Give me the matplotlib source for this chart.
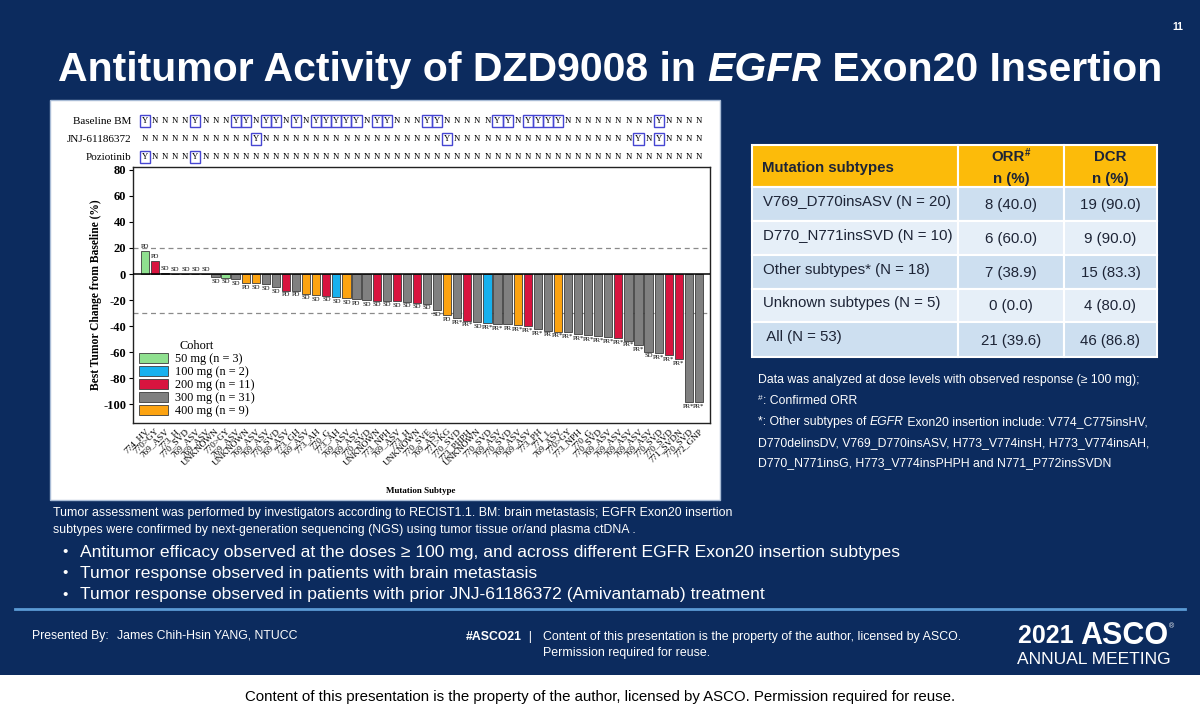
import matplotlib
matplotlib.use("Agg")
import matplotlib.pyplot as plt
from matplotlib.patches import Rectangle, Patch
from matplotlib.lines import Line2D
from matplotlib.transforms import blended_transform_factory

plt.rcParams["axes.unicode_minus"] = False

W, H = 1200, 720
NAVY = "#0c2b5e"
SANS = "Liberation Sans"
SERIF = "Liberation Serif"

# ---- waterfall data (one entry per patient, left to right) ----
subtypes = ["774_HV", "770>GY", "769_ASV", "773_H", "770_SVD", "769_ASV", "769_ASV", "UNKNOWN",
            "770>GY", "769_ASV", "UNKNOWN", "769_ASV", "769_ASV", "770_SVD", "769_ASV", "773_GH",
            "769_ASV", "773_AH", "770_G", "773_AH", "769_ASV", "769_ASV", "770_SVD", "UNKNOWN",
            "773_NPH", "769_ASV", "773_H", "UNKNOWN", "770_SVE", "769_ASV", "771>KG", "770_SVD",
            "773_PHPH", "UNKNOWN", "770_SVD", "769_ASV", "770_SVD", "769_ASV", "769_ASV", "773_PH",
            "771_L", "769_ASV", "770>GY", "773_NPH", "770_G", "770_SVD", "769_ASV", "769_ASV",
            "769_ASV", "769_ASV", "769_ASV", "770_SVD", "770_SVD", "771_SVDN", "770_SVD", "772_GNP"]
change = [18, 10, 1, 0, 0, 0, 0, -2.6, -3, -4, -7, -7, -7.7, -10, -12.8, -13,
          -15, -16.5, -16.8, -18, -18.7, -19.5, -20, -20.5, -20.5, -20.8, -21.3, -22, -23, -27.7,
          -31.5, -34, -36, -36.9, -37.9, -38.5, -38.7, -39.2, -40, -42.6, -43.6, -44.4, -44.9,
          -46.2, -47, -47.7, -48.7, -49.5, -51.3, -54.6, -59.7, -61, -62.3, -65.6, -98.7, -98.7]
dose = [50, 200, 300, 300, 400, 50, 300, 300, 50, 300, 400, 400, 300, 300, 200, 300,
        400, 400, 200, 100, 400, 300, 300, 200, 300, 200, 300, 200, 300, 300, 400, 300,
        200, 300, 100, 300, 300, 400, 200, 300, 300, 400, 300, 300, 300, 300, 300, 200,
        300, 300, 300, 300, 200, 200, 300, 300]
response = ["PD", "PD"] + ["SD"] * 8 + ["PD", "SD", "SD", "SD", "PD", "PD"] + ["SD"] * 5 + ["PD"] + \
           ["SD"] * 8 + ["PD", "PR*", "PR*", "SD", "PR*", "PR*", "PR", "PR*", "PR*", "PR*", "PR"] + \
           ["PR*"] * 9 + ["SD", "PR*", "PR*", "PR*", "PR*", "PR*"]
baseline_bm = list("YNNNNYNNNYYNYYNYNYYYYYNYYNNNYYNNNNNYYNYYYYNNNNNNNNNYNNNN")
jnj_yes = [12, 31, 50, 52]
pozio_yes = [1, 6]

cohort_labels = ["50 mg (n = 3)", "100 mg (n = 2)", "200 mg (n = 11)", "300 mg (n = 31)", "400 mg (n = 9)"]
cohort_doses = [50, 100, 200, 300, 400]
cohort_colors = {50: "#8fe08f", 100: "#17b1ee", 200: "#d8143f", 300: "#808080", 400: "#fca311"}

# ---- table data ----
tbl_rows = ["V769_D770insASV (N = 20)", "D770_N771insSVD (N = 10)", "Other subtypes* (N = 18)",
            "Unknown subtypes (N = 5)", " All (N = 53)"]
tbl_orr = ["8 (40.0)", "6 (60.0)", "7 (38.9)", "0 (0.0)", "21 (39.6)"]
tbl_dcr = ["19 (90.0)", "9 (90.0)", "15 (83.3)", "4 (80.0)", "46 (86.8)"]

bullets = ["Antitumor efficacy observed at the doses \u2265 100 mg, and across different EGFR Exon20 insertion subtypes",
           "Tumor response observed in patients with brain metastasis",
           "Tumor response observed in patients with prior JNJ-61186372 (Amivantamab) treatment"]

fig = plt.figure(figsize=(12, 7.2), dpi=100)
fig.patch.set_facecolor("white")
renderer = fig.canvas.get_renderer()


def fx(px):
    return px / W


def fy(py):
    return 1 - py / H


def rich(x, y, parts, ha="left", size=10, color="white", va="center"):
    """draw text runs with different styles one after another (pixel coords)"""
    cur = fx(x)
    arts = []
    for p in parts:
        if isinstance(p, str):
            p = (p, {})
        s, kw = p
        opts = dict(color=color, fontsize=size, family=SANS, va=va)
        opts.update(kw)
        dy = opts.pop("dy", 0)
        t = fig.text(cur, fy(y - dy), s, **opts)
        cur += t.get_window_extent(renderer).width / W
        arts.append(t)
    if ha == "center":
        shift = (cur - fx(x)) / 2
        for t in arts:
            t.set_x(t.get_position()[0] - shift)
    return arts


# slide background and chart panel
fig.add_artist(Rectangle((0, fy(675)), 1, 675 / H, transform=fig.transFigure,
                         facecolor=NAVY, edgecolor="none", zorder=-3))
fig.add_artist(Rectangle((fx(50), fy(500)), 670 / W, 400 / H, transform=fig.transFigure,
                         facecolor="white", edgecolor="#a9bcd6", lw=1, zorder=-2))

# ---- waterfall ----
ax = fig.add_axes([fx(133), fy(423), (710 - 133) / W, (423 - 167) / H])
x = list(range(len(change)))
ax.bar(x, change, width=0.82, color=[cohort_colors[d] for d in dose],
       edgecolor="#3c3c3c", linewidth=0.6, zorder=3)
ax.axhline(0, color="black", lw=1.1, zorder=4)
ax.axhline(20, color="#8a8a8a", lw=0.9, ls=(0, (4, 3)), zorder=1)
ax.axhline(-30, color="#8a8a8a", lw=0.9, ls=(0, (4, 3)), zorder=1)
ax.set_xlim(-1.19, 56.1)
ax.set_ylim(-114.6, 82.3)
ax.set_yticks(range(-100, 81, 20))
for lab in ax.get_yticklabels():
    lab.set_fontfamily(SERIF)
    lab.set_fontweight("bold")
    lab.set_fontsize(9)
ax.tick_params(axis="y", length=3, width=0.8, pad=2)
ax.set_xticks(x)
ax.set_xticklabels(subtypes, rotation=45, ha="right", rotation_mode="anchor",
                   fontsize=6.7, family=SERIF)
ax.tick_params(axis="x", length=0, pad=3)
for s in ax.spines.values():
    s.set_linewidth(1.0)
    s.set_color("#222222")
ax.set_ylabel("Best Tumor Change from Baseline (%)", family=SERIF, fontweight="bold",
              fontsize=8.3, labelpad=1)

for i, (v, r) in enumerate(zip(change, response)):
    if v >= 0:
        ax.text(i, v + 1.2, r, ha="center", va="bottom", fontsize=4.8, family=SERIF, zorder=5)
    else:
        ax.text(i, v - 1.2, r, ha="center", va="top", fontsize=4.8, family=SERIF, zorder=5)

handles = [Patch(facecolor=cohort_colors[d], edgecolor="#3c3c3c", lw=0.6) for d in cohort_doses]
leg = ax.legend(handles, cohort_labels, title="Cohort", loc="lower left", frameon=False,
                prop={"family": SERIF, "size": 8.8}, title_fontproperties={"family": SERIF, "size": 8.8},
                handlelength=2.4, handleheight=0.9, handletextpad=0.5, labelspacing=0.05,
                borderaxespad=0.3, borderpad=0.2)

fig.text(fx(421), fy(491), "Mutation Subtype", family=SERIF, fontweight="bold", fontsize=6.5,
         ha="center", va="center")

# Y/N annotation rows above the bars
tr = blended_transform_factory(ax.transData, fig.transFigure)
rows = [("Baseline BM", 121, baseline_bm),
        ("JNJ-61186372", 139, ["Y" if i + 1 in jnj_yes else "N" for i in x]),
        ("Poziotinib", 157, ["Y" if i + 1 in pozio_yes else "N" for i in x])]
for name, py, flags in rows:
    fig.text(fx(131), fy(py), name, family=SERIF, fontsize=8, ha="right", va="center")
    for i, f in enumerate(flags):
        box = dict(boxstyle="square,pad=0.22", fc="none", ec="#4646d2", lw=1.0) if f == "Y" else None
        ax.text(i, fy(py), f, transform=tr, family=SERIF, fontsize=6.3, ha="center", va="center",
                bbox=box, clip_on=False)

# ---- title ----
rich(610, 70, [("Antitumor Activity of DZD9008 in ", {"fontweight": "bold"}),
               ("EGFR", {"fontweight": "bold", "style": "italic"}),
               (" Exon20 Insertion", {"fontweight": "bold"})], ha="center", size=29.5)
fig.text(fx(1178), fy(27), "11", color="white", fontsize=7.5, fontweight="bold", family=SANS,
         ha="center", va="center")

# ---- table ----
col_edges = [752, 958, 1064, 1157]
row_edges = [145, 187, 221, 255, 289, 322, 357]
fills = ["#fcbb0a", "#cddff0", "#e6eff8", "#cddff0", "#e6eff8", "#cddff0"]
for r in range(6):
    for c in range(3):
        x0, x1 = col_edges[c], col_edges[c + 1]
        y0, y1 = row_edges[r], row_edges[r + 1]
        fig.add_artist(Rectangle((fx(x0), fy(y1)), (x1 - x0) / W, (y1 - y0) / H,
                                 transform=fig.transFigure, facecolor=fills[r],
                                 edgecolor="white", lw=1.5, zorder=1))
TXT = "#1d2436"
fig.text(fx(762), fy(168), "Mutation subtypes", color=TXT, fontsize=10.8, fontweight="bold",
         family=SANS, va="center")
ccx = [(col_edges[1] + col_edges[2]) / 2, (col_edges[2] + col_edges[3]) / 2]
rich(ccx[0], 157, [("ORR", {"fontweight": "bold"}),
                   ("#", {"fontweight": "bold", "fontsize": 7, "dy": 4})], ha="center", size=10.8, color=TXT)
rich(ccx[1], 157, [("DCR", {"fontweight": "bold"})], ha="center", size=10.8, color=TXT)
for cx in ccx:
    fig.text(fx(cx), fy(179), "n (%)", color=TXT, fontsize=10.8, fontweight="bold", family=SANS,
             ha="center", va="center")
for r, (lab, orr, dcr) in enumerate(zip(tbl_rows, tbl_orr, tbl_dcr)):
    yc = (row_edges[r + 1] + row_edges[r + 2]) / 2
    fig.text(fx(763), fy(yc - 2), lab, color=TXT, fontsize=10.8, family=SANS, va="center")
    fig.text(fx(ccx[0]), fy(yc + 1), orr, color=TXT, fontsize=10.8, family=SANS, ha="center", va="center")
    fig.text(fx(ccx[1]), fy(yc + 1), dcr, color=TXT, fontsize=10.8, family=SANS, ha="center", va="center")

# notes beside the table
ns = 8.8
rich(758, 380, ["Data was analyzed at dose levels with observed response (\u2265 100 mg);"], size=ns)
rich(758, 401, [("#", {"fontsize": 6, "dy": 3}), ": Confirmed ORR"], size=ns)
rich(758, 422, ["*: Other subtypes of ", ("EGFR", {"style": "italic"}),
                " Exon20 insertion include: V774_C775insHV,"], size=ns)
rich(758, 443, ["D770delinsDV, V769_D770insASV, H773_V774insH, H773_V774insAH,"], size=ns)
rich(758, 463, ["D770_N771insG, H773_V774insPHPH and N771_P772insSVDN"], size=ns)

# footnote and bullets
rich(53, 513, ["Tumor assessment was performed by investigators according to RECIST1.1. BM: brain metastasis; EGFR Exon20 insertion"], size=8.95)
rich(53, 530, ["subtypes were confirmed by next-generation sequencing (NGS) using tumor tissue or/and plasma ctDNA ."], size=8.95)
for k, b in enumerate(bullets):
    yb = 552 + k * 21.5
    fig.text(fx(62), fy(yb), "\u2022", color="white", fontsize=11, family=SANS, va="center")
    fig.text(fx(80), fy(yb), b, color="white", fontsize=12.6, family=SANS, va="center")

fig.add_artist(Line2D([fx(15), fx(1185)], [fy(609), fy(609)], transform=fig.transFigure,
                      color="#5b9bd5", lw=2))

# footer
fig.text(fx(32), fy(636), "Presented By:", color="white", fontsize=8.8, family=SANS, va="center")
fig.text(fx(117), fy(636), "James Chih-Hsin YANG, NTUCC", color="white", fontsize=8.8, family=SANS, va="center")
rich(466, 637, [("#ASCO21", {"fontweight": "bold"}), "  |  "], size=8.8)
fig.text(fx(543), fy(637), "Content of this presentation is the property of the author, licensed by ASCO.",
         color="white", fontsize=8.9, family=SANS, va="center")
fig.text(fx(543), fy(653), "Permission required for reuse.", color="white", fontsize=8.9, family=SANS, va="center")
rich(1018, 636, [("2021 ", {"fontweight": "bold", "fontsize": 18}), ("ASCO", {"fontweight": "bold"}),
                 ("\u00ae", {"fontsize": 5, "dy": 9})], size=22)
fig.text(fx(1094), fy(659), "ANNUAL MEETING", color="white", fontsize=12.5, family=SANS,
         ha="center", va="center")

fig.text(0.5, fy(697), "Content of this presentation is the property of the author, licensed by ASCO. Permission required for reuse.",
         color="black", fontsize=10.8, family=SANS, ha="center", va="center")

fig.savefig("out.png", dpi=100)
